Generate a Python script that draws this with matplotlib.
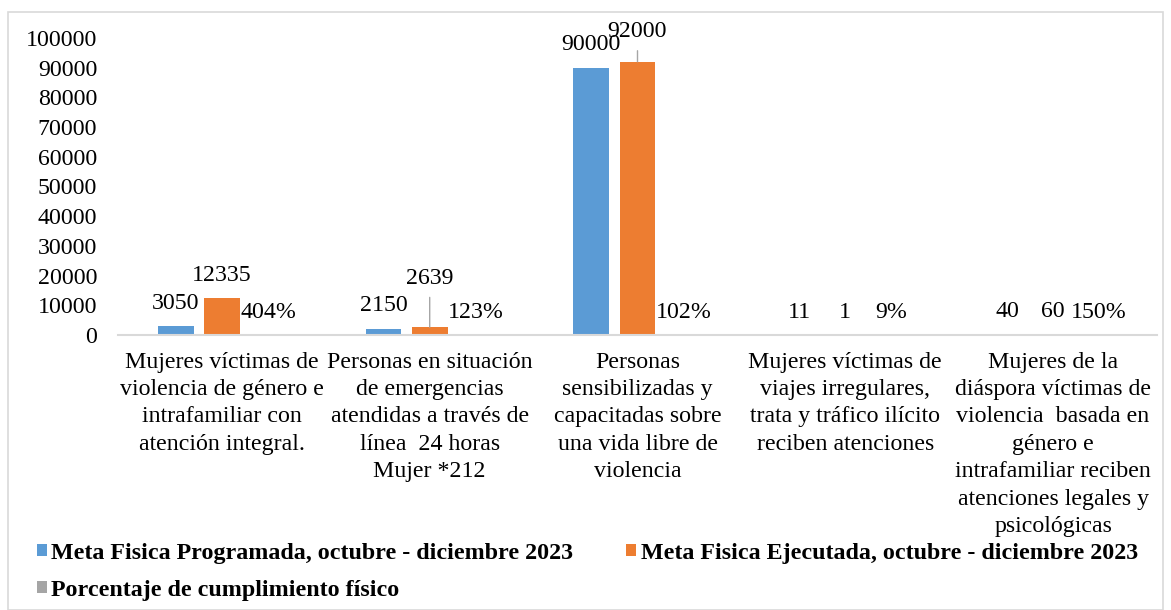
import matplotlib
matplotlib.use("Agg")
import matplotlib.pyplot as plt
from matplotlib.patches import Patch, Rectangle

plt.rcParams['font.family'] = ['Liberation Serif', 'DejaVu Serif']

categories = [
    "Mujeres víctimas de\nviolencia de género e\nintrafamiliar con\natención integral.",
    "Personas en situación\nde emergencias\natendidas a través de\nlínea  24 horas\nMujer *212",
    "Personas\nsensibilizadas y\ncapacitadas sobre\nuna vida libre de\nviolencia",
    "Mujeres víctimas de\nviajes irregulares,\ntrata y tráfico ilícito\nreciben atenciones",
    "Mujeres de la\ndiáspora víctimas de\nviolencia  basada en\ngénero e\nintrafamiliar reciben\natenciones legales y\npsicológicas",
]
programada = [3050, 2150, 90000, 11, 40]
ejecutada = [12335, 2639, 92000, 1, 60]
porcentaje = [4.04, 1.23, 1.02, 0.09, 1.50]
pct_labels = ["404%", "123%", "102%", "9%", "150%"]
series_names = [
    "Meta Fisica Programada, octubre - diciembre 2023",
    "Meta Fisica Ejecutada, octubre - diciembre 2023",
    "Porcentaje de cumplimiento físico",
]
yticks = list(range(0, 100001, 10000))

colors = ["#5B9BD5", "#ED7D31", "#A5A5A5"]
FS = 17.2

W, H = 1171, 610
fig = plt.figure(figsize=(W / 100, H / 100), dpi=100)
fig.patches.append(Rectangle((8 / W, 0), (1163 - 8) / W, (H - 12) / H,
                             transform=fig.transFigure, fill=False,
                             edgecolor="#D9D9D9", lw=1.2))

ax = fig.add_axes([118 / W, (H - 335) / H, (1157 - 118) / W, (335 - 38) / H])
x = list(range(len(categories)))
step = 0.222
width = 0.172
all_series = [programada, ejecutada, porcentaje]
for k, (vals, col) in enumerate(zip(all_series, colors)):
    xs = [i + (k - 1) * step for i in x]
    ax.bar(xs, vals, width=width, color=col, label=series_names[k])

ax.set_xlim(-0.5, len(categories) - 0.5)
ax.set_ylim(0, 100000)
ax.set_yticks(yticks)
ax.set_yticklabels([str(v) for v in yticks], fontsize=FS)
ax.tick_params(axis='y', length=0, pad=15)
ax.set_xticks(x)
ax.set_xticklabels(categories, fontsize=FS, linespacing=1.4, va='top')
ax.tick_params(axis='x', length=0, pad=12)
for s in ['top', 'right', 'left']:
    ax.spines[s].set_visible(False)
ax.spines['bottom'].set_color("#D9D9D9")
ax.spines['bottom'].set_linewidth(1.5)

# data labels
moved = {(1, 1): 35, (1, 2): 21.5}
for k, vals in enumerate(all_series):
    for i, v in enumerate(vals):
        xs = i + (k - 1) * step
        txt = pct_labels[i] if k == 2 else str(v)
        if (k, i) in moved:
            ax.annotate(txt, (xs, v), xytext=(0, moved[(k, i)]), textcoords='offset points',
                        ha='center', va='center', fontsize=FS, annotation_clip=False,
                        arrowprops=dict(arrowstyle='-', color='#A6A6A6', lw=1,
                                        shrinkA=4, shrinkB=0))
        else:
            ax.annotate(txt, (xs, v), xytext=(0, 16.5), textcoords='offset points',
                        ha='center', va='center', fontsize=FS, annotation_clip=False)

handles = [Patch(facecolor=c, edgecolor='none') for c in colors]
order = [0, 2, 1]
fig.legend([handles[j] for j in order], [series_names[j] for j in order],
           loc='upper left', bbox_to_anchor=(37 / W, 1 - 543 / H),
           ncol=2, frameon=False, prop={'weight': 'bold', 'size': 17.3},
           handlelength=0.4, handleheight=0.4, handletextpad=0.2,
           columnspacing=2.2, labelspacing=0.65, borderaxespad=0, borderpad=0)

fig.savefig("out.png", dpi=100)
